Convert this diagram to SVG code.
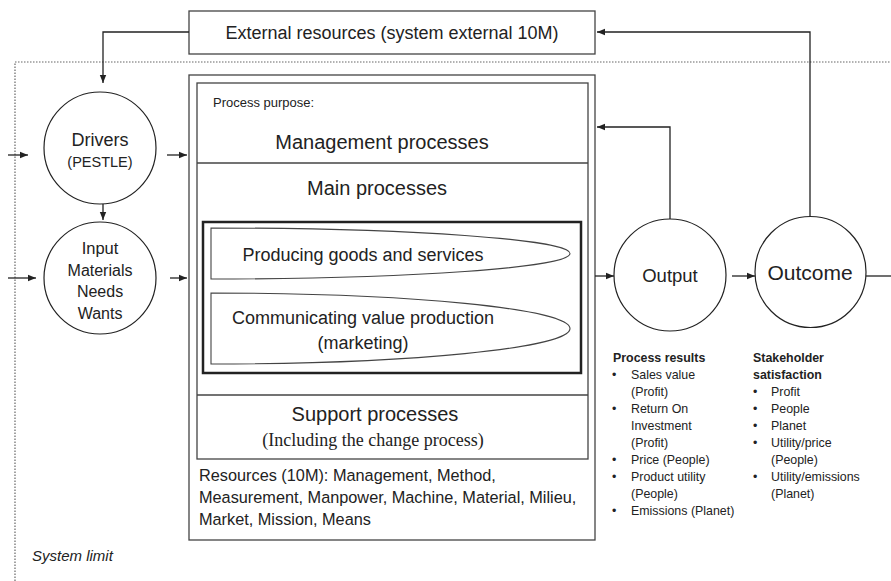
<svg xmlns="http://www.w3.org/2000/svg" width="891" height="581" viewBox="0 0 891 581">
<defs>
<marker id="ah" viewBox="0 0 10 10" refX="10" refY="5" markerWidth="8" markerHeight="8" markerUnits="userSpaceOnUse" orient="auto"><path d="M0,1 L10,5 L0,9 z" fill="#222"/></marker>
<style>
text{font-family:"Liberation Sans",Arial,sans-serif;fill:#222}
.box{fill:none;stroke:#444;stroke-width:1.3}
.node{fill:#fff;stroke:#222;stroke-width:1.2}
.c{stroke:#222;stroke-width:1.3;fill:none;marker-end:url(#ah)}
.l{stroke:#222;stroke-width:1.3;fill:none}
.mid{text-anchor:middle}
.small{font-size:12.4px}
.b{font-weight:bold}
</style>
</defs>
<rect width="891" height="581" fill="#fff"/>
<path d="M15,581 V62 H891" fill="none" stroke="#666" stroke-width="1.2" stroke-dasharray="1.5,1.5"/>
<g id="external">
<rect class="box" x="189" y="11" width="406" height="43"/>
<text class="mid" x="392" y="39" font-size="18">External resources (system external 10M)</text>
</g>
<g id="drivers">
<circle class="node" cx="100" cy="148" r="56"/>
<text class="mid" x="100" y="146" font-size="18">Drivers</text>
<text class="mid" x="100" y="167" font-size="14.5">(PESTLE)</text>
</g>
<g id="input">
<circle class="node" cx="100" cy="278" r="56"/>
<text class="mid" x="100" y="254" font-size="16.5">Input</text>
<text class="mid" x="100" y="276" font-size="16">Materials</text>
<text class="mid" x="100" y="297" font-size="16">Needs</text>
<text class="mid" x="100" y="319" font-size="16">Wants</text>
</g>
<g id="process">
<rect class="box" x="189" y="75" width="406" height="465"/>
<rect class="box" x="197" y="83" width="391" height="376"/>
<line class="box" x1="197" y1="163" x2="588" y2="163"/>
<line class="box" x1="197" y1="395" x2="588" y2="395"/>
<text x="213" y="107" font-size="13">Process purpose:</text>
<text class="mid" x="382" y="149" font-size="20">Management processes</text>
<text class="mid" x="377" y="195" font-size="20">Main processes</text>
<rect x="203" y="222" width="378" height="151" fill="none" stroke="#222" stroke-width="2.5"/>
<path d="M211,228 A359,25.5 0 0 1 211,279 Z" fill="#fff" stroke="#444" stroke-width="1.1"/>
<text class="mid" x="363" y="261" font-size="18">Producing goods and services</text>
<path d="M211,293 A359,35.5 0 0 1 211,364 Z" fill="#fff" stroke="#444" stroke-width="1.1"/>
<text class="mid" x="363" y="324" font-size="18">Communicating value production</text>
<text class="mid" x="363" y="349" font-size="18">(marketing)</text>
<text class="mid" x="375" y="421" font-size="20">Support processes</text>
<text class="mid" x="373" y="446" font-size="18" style="font-family:'Liberation Serif','Times New Roman',serif">(Including the change process)</text>
<text x="199" y="481" font-size="16.3">Resources (10M): Management, Method,</text>
<text x="199" y="503" font-size="16.3">Measurement, Manpower, Machine, Material, Milieu,</text>
<text x="199" y="525" font-size="16.3">Market, Mission, Means</text>
</g>
<g id="output">
<circle class="node" cx="670" cy="275" r="56"/>
<text class="mid" x="670" y="282" font-size="18.5">Output</text>
</g>
<g id="outcome">
<circle class="node" cx="810.5" cy="272" r="55.5"/>
<text class="mid" x="810" y="280" font-size="21">Outcome</text>
</g>
<g id="process-results" class="small">
<text x="613" y="362" class="b">Process results</text>
<text x="612" y="379">•</text><text x="631" y="379">Sales value</text>
<text x="631" y="396">(Profit)</text>
<text x="612" y="413">•</text><text x="631" y="413">Return On</text>
<text x="631" y="430">Investment</text>
<text x="631" y="447">(Profit)</text>
<text x="612" y="464">•</text><text x="631" y="464">Price (People)</text>
<text x="612" y="481">•</text><text x="631" y="481">Product utility</text>
<text x="631" y="498">(People)</text>
<text x="612" y="515">•</text><text x="631" y="515">Emissions (Planet)</text>
</g>
<g id="stakeholder-satisfaction" class="small">
<text x="753" y="362" class="b">Stakeholder</text>
<text x="753" y="379" class="b">satisfaction</text>
<text x="753" y="396">•</text><text x="771" y="396">Profit</text>
<text x="753" y="413">•</text><text x="771" y="413">People</text>
<text x="753" y="430">•</text><text x="771" y="430">Planet</text>
<text x="753" y="447">•</text><text x="771" y="447">Utility/price</text>
<text x="771" y="464">(People)</text>
<text x="753" y="481">•</text><text x="771" y="481">Utility/emissions</text>
<text x="771" y="498">(Planet)</text>
</g>
<g id="system-limit">
<text x="32" y="561" font-size="15" font-style="italic">System limit</text>
</g>
<g id="connectors">
<path class="c" d="M189,32 H103 V83"/>
<path class="c" d="M8,155 H28"/>
<path class="c" d="M103,204 V220"/>
<path class="c" d="M8,278 H36"/>
<path class="c" d="M167,155 H187"/>
<path class="c" d="M170,278 H187"/>
<path class="c" d="M595,276 H614"/>
<path class="c" d="M732,276 H755"/>
<path class="l" d="M866,276 H891"/>
<path class="c" d="M670,219 V127 H597"/>
<path class="c" d="M810,216.5 V32 H597"/>
</g>
</svg>
